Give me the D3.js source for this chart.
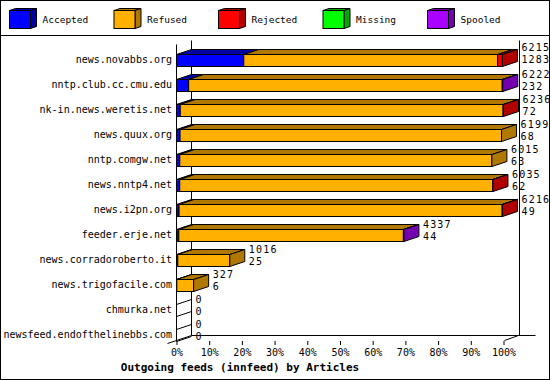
<!DOCTYPE html>
<html>
<head>
<meta charset="utf-8">
<script src="https://cdn.jsdelivr.net/npm/d3@7"></script>
<style>
  body { margin: 0; background: #fff; }
  text { font-family: "DejaVu Sans Mono", monospace; font-size: 10px; fill: #000; }
</style>
</head>
<body>
<div id="chart"></div>
<script>
// hosts and article counts per status
const hosts = ["news.novabbs.org", "nntp.club.cc.cmu.edu", "nk-in.news.weretis.net", "news.quux.org",
  "nntp.comgw.net", "news.nntp4.net", "news.i2pn.org", "feeder.erje.net", "news.corradoroberto.it",
  "news.trigofacile.com", "chmurka.net", "newsfeed.endofthelinebbs.com"];
const accepted = [1283, 232, 72, 68, 63, 62, 49, 44, 25, 6, 0, 0];
const refused  = [4842, 5980, 6156, 6131, 5952, 5968, 6162, 4283, 991, 321, 0, 0];
const rejected = [90, 0, 8, 0, 0, 5, 5, 0, 0, 0, 0, 0];
const missing  = [0, 0, 0, 0, 0, 0, 0, 0, 0, 0, 0, 0];
const spooled  = [0, 10, 0, 0, 0, 0, 0, 10, 0, 0, 0, 0];
const seriesNames = ["Accepted", "Refused", "Rejected", "Missing", "Spooled"];
const tickLabels = ["0%", "10%", "20%", "30%", "40%", "50%", "60%", "70%", "80%", "90%", "100%"];

const front = ["#0000ff", "#ffb000", "#ff0000", "#00ff00", "#aa00ff"];
const shade = ["#0000a8", "#b07800", "#b00000", "#00a800", "#7400b0"];

const width = 550, height = 380;
const dx = 15, dy = 5;   // 3d depth
const barH = 12;

const series = [accepted, refused, rejected, missing, spooled];
const totals = hosts.map((h, i) => d3.sum(series, s => s[i]));
const maxTotal = d3.max(totals);

const xScale = d3.scaleLinear().domain([0, maxTotal]).range([176, 503]);
const yScale = d3.scaleBand().domain(hosts).range([47.5, 347.5]);

const svg = d3.select("#chart").append("svg")
  .attr("width", width).attr("height", height);

// frame + legend separator
svg.append("rect").attr("x", 0.5).attr("y", 0.5).attr("width", width - 1).attr("height", height - 1)
  .attr("fill", "none").attr("stroke", "#000");
svg.append("line").attr("x1", 0).attr("x2", width).attr("y1", 35.5).attr("y2", 35.5).attr("stroke", "#000");

// legend cubes
const leg = svg.selectAll(".leg").data(seriesNames).enter().append("g")
  .attr("transform", (d, i) => `translate(${9.5 + i * 104.5},10.5)`);
leg.append("polygon").attr("points", "0,0 6,-2 27,-2 21,0").attr("fill", (d, i) => shade[i]).attr("stroke", "#000");
leg.append("polygon").attr("points", "21,0 27,-2 27,16 21,18").attr("fill", (d, i) => shade[i]).attr("stroke", "#000");
leg.append("rect").attr("width", 21).attr("height", 18).attr("fill", (d, i) => front[i]).attr("stroke", "#000");
leg.append("text").attr("x", 33).attr("y", 9).attr("dy", "0.35em").style("font-size", "9.5px").text(d => d);

// back walls
const x0 = xScale(0), xEnd = xScale(maxTotal);
const axisLines = [
  [x0, 44, x0, 340],
  [x0 + dx, 40, x0 + dx, 335],
  [xEnd + dx + 1, 40, xEnd + dx + 1, 335],
  [x0 + dx, 335, 535, 335],
  [167, 343, x0 + dx, 335],
  [xEnd + 1, 340, xEnd + dx, 335]
];
svg.selectAll(".ax").data(axisLines).enter().append("line")
  .attr("x1", d => d[0] + 0.5).attr("y1", d => d[1] + 0.5)
  .attr("x2", d => d[2] + 0.5).attr("y2", d => d[3] + 0.5)
  .attr("stroke", "#000");

// bars
hosts.forEach((h, i) => {
  const top = yScale(h) + yScale.bandwidth() / 2 - barH / 2 + 0.5;
  const bot = top + barH;
  let start = 0, last = -1;
  const g = svg.append("g");
  series.forEach((s, k) => {
    const a = xScale(start) + 0.5, b = xScale(start + s[i]) + 0.5;
    if (s[i] > 0) {
      g.append("rect").attr("x", a).attr("y", top).attr("width", b - a).attr("height", barH)
        .attr("fill", front[k]).attr("stroke", "#000");
      g.append("polygon")
        .attr("points", `${a},${top} ${a + dx},${top - dy} ${b + dx},${top - dy} ${b},${top}`)
        .attr("fill", shade[k]).attr("stroke", "#000");
      last = k;
    }
    start += s[i];
  });
  const e = xScale(totals[i]) + 0.5;
  if (last >= 0) {
    g.append("polygon")
      .attr("points", `${e},${top} ${e + dx},${top - dy} ${e + dx},${bot - dy} ${e},${bot}`)
      .attr("fill", shade[last]).attr("stroke", "#000");
  } else {
    g.append("polyline")
      .attr("points", `${e},${bot} ${e},${top} ${e + dx},${top - dy}`)
      .attr("fill", "none").attr("stroke", "#000");
    g.append("line").attr("x1", e).attr("y1", bot).attr("x2", e + dx).attr("y2", bot - dy).attr("stroke", "#000");
  }
  const mid = top + barH / 2;
  const off = i === 0 ? -2 : 0;
  svg.append("text").attr("x", e + dx + 4).attr("y", mid - 11 + off).attr("dy", "0.35em")
    .style("letter-spacing", "1.2px").text(totals[i]);
  svg.append("text").attr("x", e + dx + 4).attr("y", mid + 1 + off).attr("dy", "0.35em")
    .style("letter-spacing", "1.2px").text(accepted[i]);
});

// host labels
svg.selectAll(".host").data(hosts).enter().append("text")
  .attr("x", 172).attr("y", d => yScale(d) + yScale.bandwidth() / 2 - 1)
  .attr("dy", "0.35em").attr("text-anchor", "end").text(d => d);

// x axis
const xAxis = d3.axisBottom(xScale)
  .tickValues(tickLabels.map((t, i) => maxTotal * i / 10))
  .tickFormat((d, i) => tickLabels[i])
  .tickSize(4).tickPadding(4);
const ax = svg.append("g").attr("transform", "translate(0.5,341)").call(xAxis);
ax.select(".domain").remove();
ax.selectAll("text").attr("font-family", "DejaVu Sans Mono").attr("font-size", 10);

svg.append("text").attr("x", 240).attr("y", 367).attr("dy", "0.35em")
  .attr("text-anchor", "middle").attr("font-weight", "bold").style("font-size", "11px")
  .text("Outgoing feeds (innfeed) by Articles");
</script>
</body>
</html>
